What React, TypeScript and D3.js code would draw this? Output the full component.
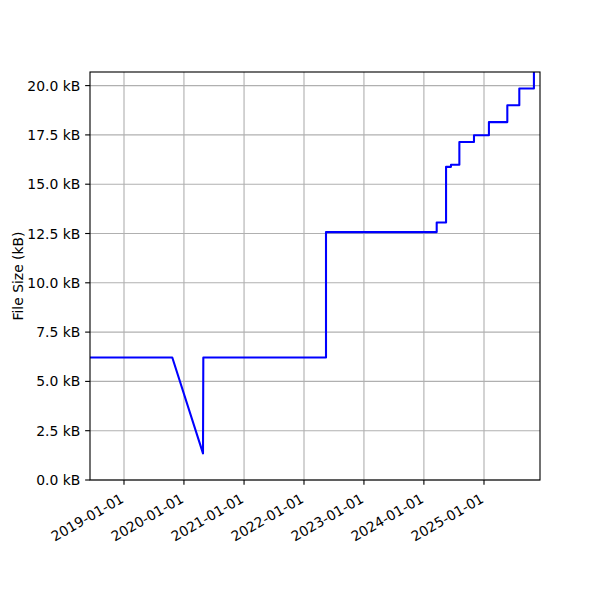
import React from "react";
import * as d3 from "d3";

const dates: string[] = [
  "2018-06-08", "2019-10-22", "2020-04-26", "2020-04-28", "2022-05-15", "2022-05-15",
  "2024-03-19", "2024-03-19", "2024-05-15", "2024-05-15", "2024-06-14", "2024-06-14",
  "2024-08-04", "2024-08-04", "2024-11-01", "2024-11-01", "2025-01-31", "2025-01-31",
  "2025-05-23", "2025-05-23", "2025-08-04", "2025-08-04", "2025-11-01", "2025-11-01",
];
const sizesKB: number[] = [
  6.21, 6.21, 1.35, 6.21, 6.21, 12.57,
  12.57, 13.06, 13.06, 15.88, 15.88, 15.99,
  15.99, 17.14, 17.14, 17.48, 17.48, 18.15,
  18.15, 19.0, 19.0, 19.85, 19.85, 21.0,
];
const xDomain: string[] = ["2018-06-08", "2025-12-08"];
const yDomain: number[] = [0, 20.69];
const xTickDates: string[] = ["2019-01-01", "2020-01-01", "2021-01-01", "2022-01-01", "2023-01-01", "2024-01-01", "2025-01-01"];
const yTicks: number[] = [0, 2.5, 5, 7.5, 10, 12.5, 15, 17.5, 20];
const yLabel = "File Size (kB)";

const parse = d3.utcParse("%Y-%m-%d");

export default function App() {
  const W = 600, H = 600;
  const left = 90, right = 540, top = 72, bottom = 480;
  const x = d3.scaleUtc().domain(xDomain.map((d) => parse(d) as Date)).range([left, right]);
  const y = d3.scaleLinear().domain(yDomain).range([bottom, top]);
  const pts: [Date, number][] = dates.map((d, i) => [parse(d) as Date, sizesKB[i]]);
  const line = d3.line<[Date, number]>().x((d) => x(d[0])).y((d) => y(d[1]));
  const font = "'DejaVu Sans', sans-serif";
  const fs = 13.9;
  const tickLen = 4.86;
  const sw = 1.11;
  return (
    <svg width={W} height={H} style={{ position: "absolute", left: 0, top: 0, background: "#fff" }} fontFamily={font}>
      <rect x={0} y={0} width={W} height={H} fill="#fff" />
      <defs>
        <clipPath id="plotclip">
          <rect x={left} y={top} width={right - left} height={bottom - top} />
        </clipPath>
      </defs>
      {/* grid */}
      {xTickDates.map((d) => {
        const xv = x(parse(d) as Date);
        return <line key={"gx" + d} x1={xv} x2={xv} y1={top} y2={bottom} stroke="#b0b0b0" strokeWidth={sw} />;
      })}
      {yTicks.map((t) => (
        <line key={"gy" + t} x1={left} x2={right} y1={y(t)} y2={y(t)} stroke="#b0b0b0" strokeWidth={sw} />
      ))}
      {/* data line */}
      <path d={line(pts) || ""} fill="none" stroke="#0000ff" strokeWidth={2.08} clipPath="url(#plotclip)" strokeLinejoin="round" />
      {/* spines */}
      <rect x={left} y={top} width={right - left} height={bottom - top} fill="none" stroke="#000" strokeWidth={sw} />
      {/* x ticks */}
      {xTickDates.map((d) => {
        const xv = x(parse(d) as Date);
        return (
          <g key={"xt" + d}>
            <line x1={xv} x2={xv} y1={bottom} y2={bottom + tickLen} stroke="#000" strokeWidth={sw} />
            <text
              x={0}
              y={0}
              transform={`translate(${xv + 0.7},${501.5}) rotate(-30)`}
              textAnchor="end"
              fontSize={fs}
              fill="#000"
            >
              {d}
            </text>
          </g>
        );
      })}
      {/* y ticks */}
      {yTicks.map((t) => (
        <g key={"yt" + t}>
          <line x1={left - tickLen} x2={left} y1={y(t)} y2={y(t)} stroke="#000" strokeWidth={sw} />
          <text x={left - tickLen - 4.86} y={y(t)} dy="0.36em" textAnchor="end" fontSize={fs} fill="#000">
            {t.toFixed(1) + " kB"}
          </text>
        </g>
      ))}
      <text
        transform={`translate(22.5,${(top + bottom) / 2}) rotate(-90)`}
        textAnchor="middle"
        fontSize={fs}
        fill="#000"
      >
        {yLabel}
      </text>
    </svg>
  );
}
